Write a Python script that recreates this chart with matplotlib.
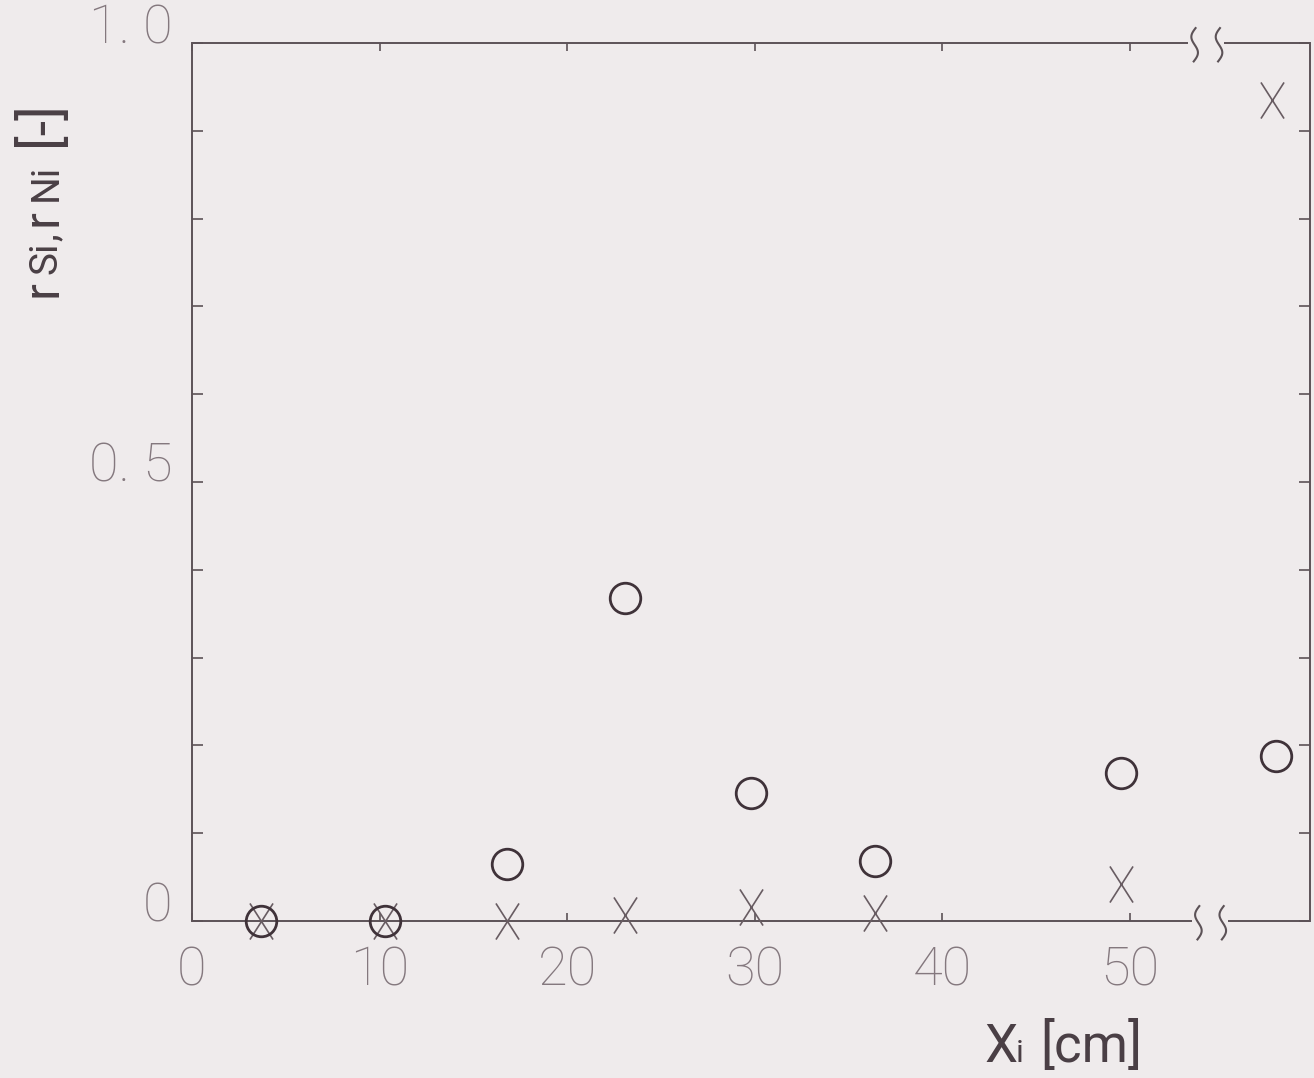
import matplotlib
matplotlib.use('Agg')
import matplotlib.pyplot as plt
import numpy as np
from matplotlib.path import Path
from matplotlib.ticker import MultipleLocator

# ---------------- data ----------------
x_si = [3.7, 10.3, 16.8, 23.1, 29.8, 36.4, 49.5, 57.8]
r_si = [0.0, 0.0, 0.065, 0.368, 0.146, 0.068, 0.169, 0.188]
x_ni = [3.7, 10.3, 16.8, 23.1, 29.8, 36.4, 49.5, 57.6]
r_ni = [0.0, 0.0, 0.0, 0.007, 0.016, 0.009, 0.042, 0.935]
x_ticks = [0, 10, 20, 30, 40, 50]
x_tick_labels = ['0', '10', '20', '30', '40', '50']
y_ticks = [0.0, 0.5, 1.0]
y_tick_labels = ['0', '0. 5', '1. 0']

# ---------------- style ----------------
BG = '#efebec'
SPINE = '#5c5257'
TICKLBL = '#84787e'
CIRC = '#3f3239'
XCOL = '#685c62'
LABEL = '#4a3f45'
FAM = 'Roboto'

W, H = 1314, 1078
fig = plt.figure(figsize=(W / 100, H / 100), dpi=100, facecolor=BG)
ax = fig.add_axes([192 / W, 1 - 921 / H, (1310 - 192) / W, (921 - 43) / H])
ax.set_facecolor(BG)
XMAX = 59.6
ax.set_xlim(0, XMAX)
ax.set_ylim(0, 1)

for s in ['left', 'right']:
    ax.spines[s].set_color(SPINE)
    ax.spines[s].set_linewidth(1.4)
for s in ['top', 'bottom']:
    ax.spines[s].set_visible(False)

# broken top/bottom spines
kw = dict(color=SPINE, lw=1.4, clip_on=False, solid_capstyle='butt')
ax.plot([0, 53.1], [1, 1], **kw)
ax.plot([55.0, XMAX], [1, 1], **kw)
ax.plot([0, 53.3], [0, 0], **kw)
ax.plot([55.25, XMAX], [0, 0], **kw)
t = np.linspace(-1, 1, 80)
for (xc, yc) in [(53.45, 1.0), (54.75, 1.0), (53.65, 0.0), (54.95, 0.0)]:
    ax.plot(xc - 0.2 * np.sin(np.pi * t) + 0.05 * t, yc - 0.002 + 0.019 * t,
            color=SPINE, lw=1.5, clip_on=False)

# ticks
ax.set_xticks(x_ticks)
ax.set_xticklabels(x_tick_labels)
ax.set_yticks(y_ticks)
ax.set_yticklabels(y_tick_labels)
ax.yaxis.set_minor_locator(MultipleLocator(0.1))
ax.tick_params(axis='x', which='major', direction='in', length=6, width=1.2,
               color=SPINE, top=True, bottom=True, pad=17,
               labelsize=39, labelcolor=TICKLBL)
ax.tick_params(axis='y', which='both', direction='in', length=8, width=1.2,
               color=SPINE, left=True, right=True, pad=14,
               labelsize=39, labelcolor=TICKLBL)
for lbl in ax.get_xticklabels() + ax.get_yticklabels():
    lbl.set_fontfamily(FAM)
    lbl.set_fontweight('light')
for lbl in ax.get_yticklabels():
    lbl.set_verticalalignment('baseline')

# markers
xm = Path([(-0.32, -0.5), (0.32, 0.5), (-0.32, 0.5), (0.32, -0.5)],
          [Path.MOVETO, Path.LINETO, Path.MOVETO, Path.LINETO])
ax.plot(x_ni, r_ni, linestyle='none', marker=xm, markersize=26,
        markeredgecolor=XCOL, markeredgewidth=1.2, clip_on=False, zorder=3)
ax.plot(x_si, r_si, linestyle='none', marker='o', markersize=22,
        markerfacecolor='none', markeredgecolor=CIRC, markeredgewidth=2.0,
        clip_on=False, zorder=4)

# axis titles
def px(x, y):
    return x / W, 1 - y / H

fig.text(*px(985, 1062), 'X', fontsize=38, family=FAM, weight='normal',
         color=LABEL, ha='left', va='baseline')
fig.text(*px(1016, 1062), 'i', fontsize=23, family=FAM, weight='normal',
         color=LABEL, ha='left', va='baseline')
fig.text(*px(1040, 1062), '[cm]', fontsize=38, family=FAM, weight='normal',
         color=LABEL, ha='left', va='baseline')

# y label, built from parts rotated 90 deg (start position = bottom)
parts = [('r', 297, 36), ('Si', 274, 28), (',', 241, 28), ('r', 226, 36),
         ('Ni', 201, 28), ('[-]', 146, 40)]
for txt, ybot, fs in parts:
    fig.text(*px(57, ybot), txt, fontsize=fs, family=FAM, weight='normal',
             color=LABEL, rotation=90, ha='left', va='baseline',
             rotation_mode='anchor')

fig.savefig('out.png', dpi=100, facecolor=BG)
